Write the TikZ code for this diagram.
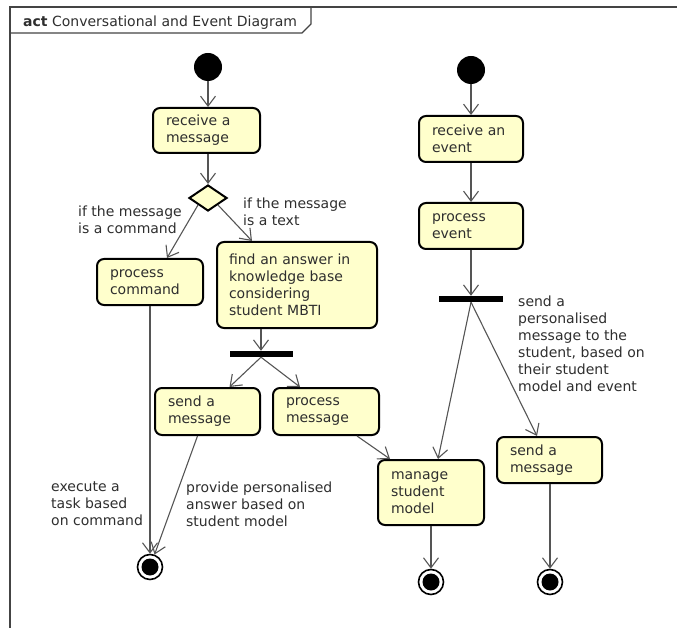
\documentclass[tikz,border=0pt]{standalone}
\usepackage{fontspec}
\setmainfont{DejaVu Sans}
\usetikzlibrary{arrows.meta,shapes.geometric,calc}
\definecolor{boxfill}{HTML}{FFFFCC}
\definecolor{txt}{HTML}{2E2E2E}
\definecolor{lgray}{HTML}{555555}
\definecolor{fgray}{HTML}{444444}
\begin{document}
\begin{tikzpicture}[x=1pt,y=-1pt,
  every node/.style={font=\fontsize{14}{17}\selectfont, text=txt},
  box/.style={draw=black, line width=2pt, rounded corners=7pt, fill=boxfill, align=left, inner xsep=13pt, inner ysep=2pt},
  flow/.style={draw=lgray, line width=1.1pt, -{Straight Barb[length=10pt,width=15pt]}},
  startn/.style={circle, fill=black, minimum size=28pt, inner sep=0pt},
  endn/.style={circle, draw=black, line width=1.6pt, fill=white, minimum size=25pt, inner sep=0pt, path picture={\fill[black] (path picture bounding box.center) circle (8.5pt);}},
  bar/.style={fill=black, inner sep=0pt, minimum height=6pt},
  lbl/.style={align=left, inner sep=0pt, anchor=west}
]
\useasboundingbox (0,0) rectangle (677,628);
% frame
\draw[fgray, line width=1.3pt] (10,628) -- (10,7) -- (677,7);
\draw[fgray, line width=1.3pt] (311,7) -- (311,24) -- (302,33) -- (10,33);
\node[anchor=base west, inner sep=0pt] (title) at (23,27) {\textbf{act} Conversational and Event Diagram};

% left flow
\node[startn] (s1) at (208,67) {};
\node[box, text width=81pt, minimum height=45pt] (rm) at (206.5,130.5) {receive a\\message};
\node[diamond, draw=black, line width=2pt, fill=boxfill, minimum width=38pt, minimum height=26pt, inner sep=0pt] (dm) at (208,198) {};
\node[box, text width=80pt, minimum height=46pt] (pc) at (150,282) {process\\command};
\node[box, text width=136pt, inner xsep=12pt, minimum height=86pt] (fa) at (297,285) {find an answer in\\knowledge base\\considering\\student MBTI};
\node[bar, minimum width=63pt] (b1) at (261,354) {};
\node[box, text width=79pt, minimum height=47pt] (sm1) at (207.5,411.5) {send a\\message};
\node[box, text width=80pt, minimum height=47pt] (pm) at (326,411.5) {process\\message};
\node[endn] (f1) at (150,567) {};

% right flow
\node[startn] (s2) at (471,70) {};
\node[box, text width=78pt, minimum height=46pt] (re) at (471,139) {receive an\\event};
\node[box, text width=78pt, minimum height=46pt] (pe) at (471,226) {process\\event};
\node[bar, minimum width=64pt] (b2) at (471,299) {};
\node[box, text width=80pt, minimum height=65pt] (ms) at (431,492.5) {manage\\student\\model};
\node[box, text width=79pt, minimum height=46pt] (sm2) at (549.5,460) {send a\\message};
\node[endn] (f2) at (431,582) {};
\node[endn] (f3) at (550,582) {};

% labels
\node[lbl] (l1) at (78,220) {if the message\\is a command};
\node[lbl] (l2) at (243,211.5) {if the message\\is a text};
\node[lbl] (l3) at (51,504) {execute a\\task based\\on command};
\node[lbl] (l4) at (186,504) {provide personalised\\answer based on\\student model};
\node[lbl] (l5) at (518,343.5) {send a\\personalised\\message to the\\student, based on\\their student\\model and event};

% connectors
\draw[flow] (s1) -- (rm.north -| s1);
\draw[flow] (rm.south -| dm) -- (dm.north);
\draw[flow] (dm.south west) -- ([xshift=17pt]pc.north);
\draw[flow] (dm.south east) -- ([xshift=-45pt]fa.north);
\draw[flow] (fa.south -| b1) -- (b1.north);
\draw[flow] (b1.south) -- ([xshift=22pt]sm1.north);
\draw[flow] (b1.south) -- ([xshift=-26pt]pm.north);
\draw[flow] (pc.south -| f1) -- (f1.north);
\draw[flow] ([xshift=-10pt]sm1.south) -- (f1.70);
\draw[flow] ([xshift=31pt]pm.south) -- ([xshift=-41pt]ms.north);
\draw[flow] (ms.south -| f2) -- (f2.north);
\draw[flow] (s2) -- (re.north);
\draw[flow] (re.south) -- (pe.north);
\draw[flow] (pe.south) -- (b2.north);
\draw[flow] (b2.south) -- ([xshift=7pt]ms.north);
\draw[flow] (b2.south) -- ([xshift=-12.5pt]sm2.north);
\draw[flow] (sm2.south -| f3) -- (f3.north);
\end{tikzpicture}
\end{document}
